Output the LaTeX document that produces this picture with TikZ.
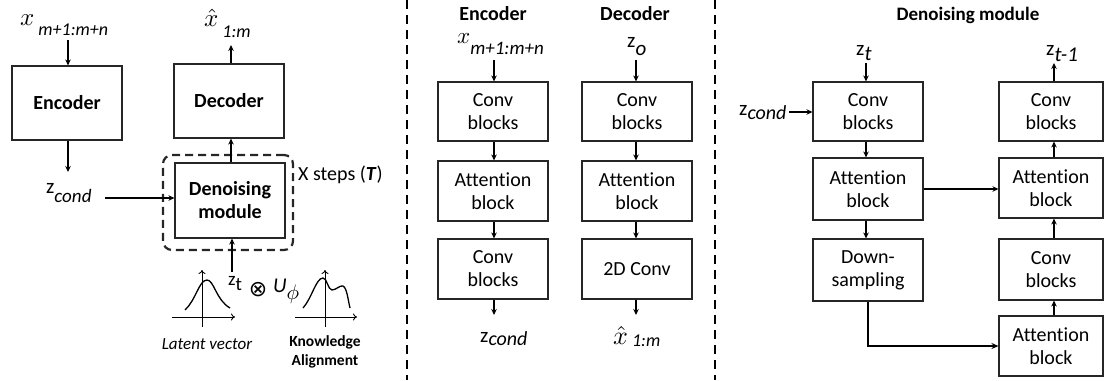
\documentclass[tikz,border=0pt]{standalone}
\usepackage{graphicx}
\usepackage{fontspec}
\setmainfont[Ligatures=NoCommon]{Carlito}
\newfontfamily\dejavu{DejaVu Sans}
\usetikzlibrary{arrows.meta}
\newcommand\scmath[2]{\scalebox{#1}{\fontsize{10}{12}\selectfont$#2$}}
\begin{document}
\begin{tikzpicture}[x=1pt,y=-1pt,
  box/.style={draw=black!85,line width=1.1pt,minimum width=110pt,inner sep=0pt,align=center,font=\fontsize{20}{23}\selectfont},
  bbox/.style={box,font=\bfseries\fontsize{20}{23}\selectfont},
  arr/.style={line width=1.4pt,-{Stealth[length=6pt,width=5.5pt]}},
  lab/.style={inner sep=1pt,anchor=base west,font=\fontsize{21}{22}\selectfont},
  head/.style={font=\bfseries\fontsize{20}{22}\selectfont},
  sep/.style={line width=1.8pt,dash pattern=on 9pt off 6pt},
  axis/.style={line width=0.9pt,-{To[length=4pt,width=7pt]}},
  curve/.style={line width=1.3pt}]
\useasboundingbox (0,0) rectangle (1105,380);

% ---------------- left panel ----------------
\node[bbox,minimum height=74pt] (enc) at (67,103) {Encoder};
\node[bbox,minimum height=74pt] (dec) at (229,101) {Decoder};
\node[bbox,minimum height=75pt] (den) at (230,200.5) {Denoising\\module};
\node[draw=black!85,line width=2.2pt,dash pattern=on 8pt off 5pt,rounded corners=9pt,minimum width=130pt,minimum height=95pt] (loop) at (228,202.5) {};

\node[lab] (xin1) at (19,25) {\scmath{2.5}{x}\hspace{4pt}\raisebox{-10pt}{\fontsize{18}{18}\selectfont\itshape m+1:m+n}};
\node[lab] (zc1) at (45,193) {z\raisebox{-9pt}{\fontsize{19}{19}\selectfont\itshape cond}};
\node[lab] (xh1) at (203,27) {\scmath{2.5}{\hat{x}}\hspace{4pt}\raisebox{-10pt}{\fontsize{18}{18}\selectfont\itshape 1:m}};
\node[lab,anchor=west,font=\fontsize{20}{22}\selectfont] (steps) at (297,175) {X steps (\textbf{\textit{T}})};

\node[lab,font=\fontsize{19}{20}\selectfont] (zt1) at (227,285) {z\raisebox{-5pt}{t}};
\node[inner sep=0pt,font=\dejavu\fontsize{22}{22}\selectfont] (ot) at (258,290) {⊗};
\node[lab,font=\fontsize{21}{22}\selectfont] (uphi) at (272,292) {\itshape U\raisebox{-7pt}{\scmath{2.1}{\phi}}};

\coordinate (a1) at (68,40);
\coordinate (a2) at (68,172);
\coordinate (a3) at (105,198);
\coordinate (a4) at (231,45);
\coordinate (a5) at (232,272);
\draw[arr] (a1) -- (a1 |- enc.north);
\draw[arr] (a1 |- enc.south) -- (a2);
\draw[arr] (a3) -- (a3 -| den.west);
\draw[arr] (a4 |- dec.north) -- (a4);
\draw[arr] (a4 |- den.north) -- (a4 |- dec.south);
\draw[arr] (a5) -- (a5 |- den.south);

% latent vector plot
\draw[axis] (172,317) -- (235,317);
\draw[axis] (202,327) -- (202,270);
\draw[curve] (185,310) .. controls (196,300) and (199,280) .. (207,280) .. controls (214,280) and (216,300) .. (230,308);
\node[font=\itshape\fontsize{17}{18}\selectfont] (lv) at (207,344) {Latent vector};

% knowledge alignment plot
\draw[axis] (295,317) -- (357,317);
\draw[axis] (325,327) -- (325,270);
\draw[curve] (303,308) .. controls (312,298) and (316,278) .. (323,278) .. controls (327,278) and (328,290) .. (332,290) .. controls (336,290) and (340,285) .. (343,286) .. controls (347,288) and (348,300) .. (350,308);
\node[align=center,font=\bfseries\fontsize{15.5}{19}\selectfont] (ka) at (325,352) {Knowledge\\Alignment};

% separators
\coordinate (s1t) at (407,0); \coordinate (s1b) at (407,380);
\coordinate (s2t) at (715,0); \coordinate (s2b) at (715,380);
\draw[sep] (s1t) -- (s1b);
\draw[sep] (s2t) -- (s2b);

% ---------------- middle panel ----------------
\node[head] (hEnc) at (493,14) {Encoder};
\node[head] (hDec) at (635,14) {Decoder};

\node[box,minimum height=59pt] (eb1) at (493,111.5) {Conv\\blocks};
\node[box,minimum height=60pt] (eb2) at (493,191) {Attention\\block};
\node[box,minimum height=60pt] (eb3) at (493,269) {Conv\\blocks};
\node[box,minimum height=59pt] (db1) at (637,111.5) {Conv\\blocks};
\node[box,minimum height=60pt] (db2) at (637,191) {Attention\\block};
\node[box,minimum height=60pt] (db3) at (637,269) {2D Conv};

\node[lab] (xin2) at (456,43) {\scmath{2.3}{x}\hspace{0pt}\raisebox{-11pt}{\fontsize{19}{19}\selectfont\itshape m+1:m+n}};
\node[lab] (zo) at (626,47) {z\raisebox{-8pt}{\itshape o}};
\node[lab] (zc2) at (479,342) {z\raisebox{-3pt}{\fontsize{20}{20}\selectfont\itshape cond}};
\node[lab] (xh2) at (612,344) {\scmath{2.6}{\hat{x}}\hspace{4pt}\raisebox{-2pt}{\fontsize{18}{18}\selectfont\itshape 1:m}};

\coordinate (b1) at (494,60);
\coordinate (b2) at (494,315);
\coordinate (b3) at (636,60);
\coordinate (b4) at (636,315);
\draw[arr] (b1) -- (b1 |- eb1.north);
\draw[arr] (b1 |- eb1.south) -- (b1 |- eb2.north);
\draw[arr] (b1 |- eb2.south) -- (b1 |- eb3.north);
\draw[arr] (b1 |- eb3.south) -- (b2);
\draw[arr] (b3) -- (b3 |- db1.north);
\draw[arr] (b3 |- db1.south) -- (b3 |- db2.north);
\draw[arr] (b3 |- db2.south) -- (b3 |- db3.north);
\draw[arr] (b3 |- db3.south) -- (b4);

% ---------------- right panel ----------------
\node[head,font=\bfseries\fontsize{19}{22}\selectfont] (hDen) at (968,15) {Denoising module};

\node[box,minimum height=59pt] (lc1) at (868,111.5) {Conv\\blocks};
\node[box,minimum height=62pt] (lc2) at (868,189) {Attention\\block};
\node[box,minimum height=62pt] (lc3) at (868,270) {Down-\\sampling};
\node[box,minimum width=104pt,minimum height=59pt] (rc1) at (1051,111.5) {Conv\\blocks};
\node[box,minimum width=104pt,minimum height=60pt] (rc2) at (1051,188) {Attention\\block};
\node[box,minimum width=104pt,minimum height=61pt] (rc3) at (1051,269.5) {Conv\\blocks};
\node[box,minimum width=104pt,minimum height=60pt] (rc4) at (1051,346) {Attention\\block};

\node[lab] (zt2) at (855,55) {z\raisebox{-5pt}{\itshape t}};
\node[lab] (zt3) at (1045,55) {z\raisebox{-6pt}{\itshape t-1}};
\node[lab] (zc3) at (738,115) {z\raisebox{-4pt}{\fontsize{20}{20}\selectfont\itshape cond}};

\coordinate (c1) at (866,63);
\coordinate (c2) at (789,112);
\coordinate (c3) at (1054,63);
\draw[arr] (c1) -- (c1 |- lc1.north);
\draw[arr] (c2) -- (c2 -| lc1.west);
\draw[arr] (c1 |- lc1.south) -- (c1 |- lc2.north);
\draw[arr] (c1 |- lc2.south) -- (c1 |- lc3.north);
\draw[arr] (lc2.east) -- (lc2.east -| rc2.west);
\draw[line width=2.4pt,-{Stealth[length=7pt,width=6pt]}] (lc3.south) |- (rc4.west);
\draw[arr] (c3 |- rc4.north) -- (c3 |- rc3.south);
\draw[arr] (c3 |- rc3.north) -- (c3 |- rc2.south);
\draw[arr] (c3 |- rc2.north) -- (c3 |- rc1.south);
\draw[arr] (c3 |- rc1.north) -- (c3);
\end{tikzpicture}
\end{document}
